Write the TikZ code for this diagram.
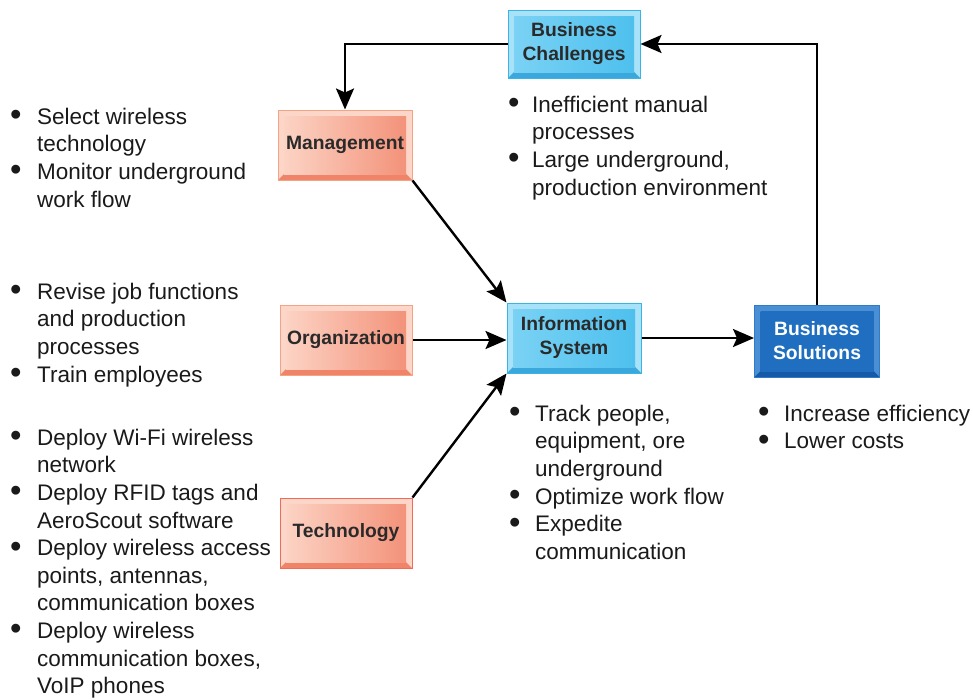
\documentclass[tikz,border=0pt]{standalone}
\usepackage{fontspec}
\setmainfont{Liberation Sans}
\usetikzlibrary{arrows.meta}
\definecolor{bEdge}{HTML}{3AB4E6}
\definecolor{bLight}{HTML}{A8E2F8}
\definecolor{bDark}{HTML}{3AA8DC}
\definecolor{bInL}{HTML}{7AD2F4}
\definecolor{bInR}{HTML}{4EC0EE}
\definecolor{oEdge}{HTML}{F4A385}
\definecolor{tEdge}{HTML}{F26A58}
\definecolor{oLight}{HTML}{FCD6C8}
\definecolor{oDark}{HTML}{F08468}
\definecolor{oInL}{HTML}{FCD3C4}
\definecolor{oInR}{HTML}{F3927A}
\definecolor{sEdge}{HTML}{2F7BC8}
\definecolor{sLight}{HTML}{4A8FD4}
\definecolor{sDark}{HTML}{1659A8}
\definecolor{sIn}{HTML}{1F6EC0}
\definecolor{txt}{HTML}{1A1A1A}
\definecolor{boxtxt}{HTML}{2A2A2A}
\newcommand\bu[1]{\rule{0pt}{17pt}\makebox[#1][l]{\smash{\raisebox{-1.5pt}{\scalebox{1.45}{•}}}}}
\newcommand\co[1]{\hspace*{#1}}
\tikzset{
  boxbase/.style={minimum width=134pt, minimum height=70pt, inner sep=0pt, align=center,
    font=\bfseries\fontsize{19.3}{24}\selectfont, line width=1pt},
  bevel/.style n args={4}{path picture={
    \fill[#1] (path picture bounding box.south west) rectangle (path picture bounding box.north east);
    \fill[#2] (path picture bounding box.south west) -- (path picture bounding box.south east)
       -- ([shift={(-6pt,6pt)}]path picture bounding box.south east)
       -- ([shift={(6pt,6pt)}]path picture bounding box.south west) -- cycle;
    \shade[left color=#3, right color=#4] ([shift={(6pt,6pt)}]path picture bounding box.south west)
       rectangle ([shift={(-6pt,-6pt)}]path picture bounding box.north east);
  }},
  bluebox/.style={boxbase, draw=bEdge, text=boxtxt, bevel={bLight}{bDark}{bInL}{bInR}},
  orangebox/.style={boxbase, draw=oEdge, text=boxtxt, bevel={oLight}{oDark}{oInL}{oInR}},
  techbox/.style={orangebox, draw=tEdge},
  solbox/.style={boxbase, draw=sEdge, text=white, bevel={sLight}{sDark}{sIn}{sIn}},
  blist/.style={anchor=north west, inner sep=0pt, align=left, text=txt,
    font=\fontsize{22.5}{27.6}\selectfont},
  conn/.style={line width=2.4pt, -{Stealth[length=21pt, width=18pt, inset=4pt]}},
}
\begin{document}
\begin{tikzpicture}[x=1pt, y=-1pt]
\useasboundingbox[fill=white] (0,0) rectangle (973,699);

\node[bluebox, minimum width=132pt, minimum height=68pt] (bc) at (574,44) {Business\\Challenges};
\node[orangebox] (mg) at (345,145) {Management};
\node[orangebox, minimum width=132pt] (og) at (346,340) {Organization};
\node[techbox, minimum width=132pt] (tc) at (346,533) {Technology};
\node[bluebox] (is) at (574,338) {Information\\System};
\node[solbox, minimum width=125pt, minimum height=72pt] (bs) at (817,341) {Business\\Solutions};

\draw[conn] (bc.west) -| (mg.north);
\draw[conn] (bs.north) |- (bc.east);
\draw[conn] (mg.south east) -- (is.north west);
\draw[conn] (og.east) -- (og.east -| is.west);
\draw[conn] (tc.north east) -- (is.south west);
\draw[conn] (is.east) -- (is.east -| bs.west);

\node[blist] (l1) at (10,107) {\bu{27pt}Select wireless\\ \co{27pt}technology\\ \bu{27pt}Monitor underground\\ \co{27pt}work flow};
\node[blist] (l2) at (10,282) {\bu{27pt}Revise job functions\\ \co{27pt}and production\\ \co{27pt}processes\\ \bu{27pt}Train employees};
\node[blist] (l3) at (10,428) {\bu{27pt}Deploy Wi-Fi wireless\\ \co{27pt}network\\ \bu{27pt}Deploy RFID tags and\\ \co{27pt}AeroScout software\\ \bu{27pt}Deploy wireless access\\ \co{27pt}points, antennas,\\ \co{27pt}communication boxes\\ \bu{27pt}Deploy wireless\\ \co{27pt}communication boxes,\\ \co{27pt}VoIP phones};
\node[blist] (l4) at (508,95) {\bu{24pt}Inefficient manual\\ \co{24pt}processes\\ \bu{24pt}Large underground,\\ \co{24pt}production environment};
\node[blist] (l5) at (509,404) {\bu{26pt}Track people,\\ \co{26pt}equipment, ore\\ \co{26pt}underground\\ \bu{26pt}Optimize work flow\\ \bu{26pt}Expedite\\ \co{26pt}communication};
\node[blist] (l6) at (758,404) {\bu{26pt}Increase efficiency\\ \bu{26pt}Lower costs};
\end{tikzpicture}
\end{document}
